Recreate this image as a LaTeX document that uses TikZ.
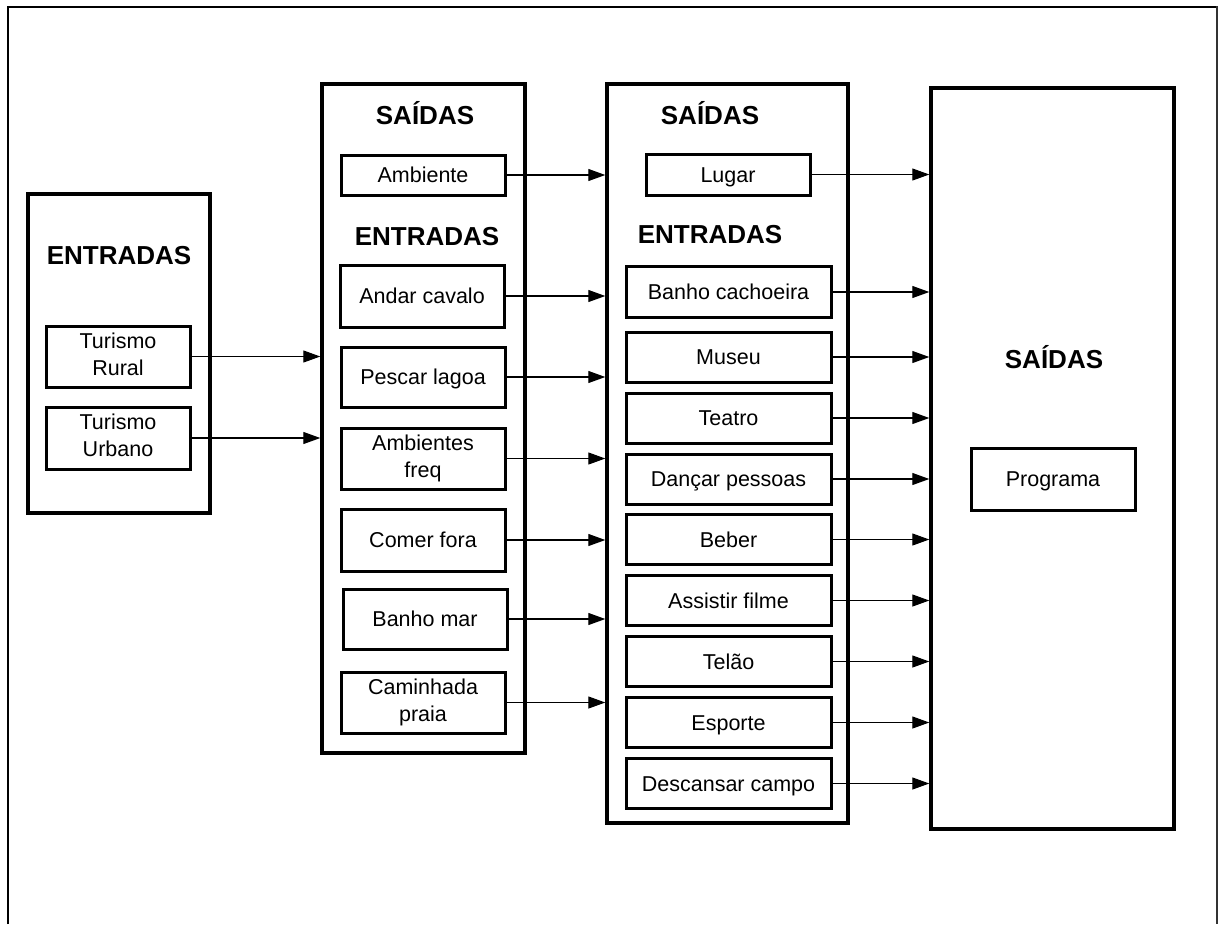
\documentclass[tikz,border=0pt]{standalone}
\usepackage{fontspec}
\setmainfont{Liberation Sans}
\usetikzlibrary{arrows.meta}
\newcommand\boxstrut{\vrule width0pt height0.92em depth0.22em\relax}
\tikzset{
  container/.style={draw, line width=3.4pt, rectangle, inner sep=0pt},
  item/.style={draw, line width=3pt, rectangle, inner sep=0pt, align=center,
    font=\fontsize{21.5}{27}\selectfont,
    execute at begin node=\boxstrut, execute at end node=\boxstrut},
  heading/.style={font=\fontsize{26}{30}\selectfont\bfseries, inner sep=0pt},
  arr/.style={line width=1.1pt, -{Triangle[length=17pt,width=12pt]}},
}
\begin{document}
\begin{tikzpicture}[x=1pt,y=-1pt]
\useasboundingbox (0,0) rectangle (1218,924);
\fill[white] (0,0) rectangle (1218,924);
% outer frame (open at the bottom)
\draw[line width=2.8pt] (8,924) -- (8,6.5);
\draw[line width=2pt] (7,6.5) -- (1217,6.5);
\draw[line width=1.5pt, black!80] (1217,6) -- (1217,924);

% containers
\node[container, minimum width=182pt, minimum height=319pt] (A) at (119,353.5) {};
\node[container, minimum width=203pt, minimum height=669pt] (B) at (423.5,418.5) {};
\node[container, minimum width=241pt, minimum height=739pt] (C) at (727.5,453.5) {};
\node[container, minimum width=243pt, minimum height=741pt] (D) at (1052.5,458.5) {};

% headings
\node[heading] (hA) at (119,256) {ENTRADAS};
\node[heading] (hB1) at (425,113) {SAÍDAS};
\node[heading] (hB2) at (427,237) {ENTRADAS};
\node[heading] (hC1) at (710,113) {SAÍDAS};
\node[heading] (hC2) at (710,235) {ENTRADAS};
\node[heading] (hD) at (1054,357) {SAÍDAS};

% column A items
\node[item, minimum width=144pt, minimum height=61pt] (tr) at (118,356.5) {Turismo\\Rural};
\node[item, minimum width=144pt, minimum height=62pt] (tu) at (118,438) {Turismo\\Urbano};

% column B items
\node[item, minimum width=164pt, minimum height=40pt] (amb) at (423,175) {Ambiente};
\node[item, minimum width=164pt, minimum height=62pt] (and) at (422,296) {Andar cavalo};
\node[item, minimum width=164pt, minimum height=60pt] (pes) at (423,377) {Pescar lagoa};
\node[item, minimum width=164pt, minimum height=61pt] (ambf) at (423,458.5) {Ambientes\\freq};
\node[item, minimum width=164pt, minimum height=62pt] (com) at (423,540) {Comer fora};
\node[item, minimum width=164pt, minimum height=60pt] (bmar) at (425,619) {Banho mar};
\node[item, minimum width=164pt, minimum height=61pt] (cam) at (423,702.5) {Caminhada\\praia};

% column C items
\node[item, minimum width=164pt, minimum height=41pt] (lug) at (728,174.5) {Lugar};
\node[item, minimum width=205pt, minimum height=51pt] (bc) at (728.5,292) {Banho cachoeira};
\node[item, minimum width=205pt, minimum height=50pt] (mus) at (728.5,357) {Museu};
\node[item, minimum width=205pt, minimum height=50pt] (tea) at (728.5,418) {Teatro};
\node[item, minimum width=205pt, minimum height=50pt] (dan) at (728.5,479) {Dançar pessoas};
\node[item, minimum width=205pt, minimum height=50pt] (beb) at (728.5,539.5) {Beber};
\node[item, minimum width=205pt, minimum height=50pt] (ass) at (728.5,600.5) {Assistir filme};
\node[item, minimum width=205pt, minimum height=50pt] (tel) at (728.5,661.5) {Telão};
\node[item, minimum width=205pt, minimum height=50pt] (esp) at (728.5,722.5) {Esporte};
\node[item, minimum width=205pt, minimum height=50pt] (des) at (728.5,783.5) {Descansar campo};

% column D item
\node[item, minimum width=164pt, minimum height=62pt] (prog) at (1053,479) {Programa};

% arrows A -> B
\foreach \n in {tr,tu}
  \draw[arr] (\n.east) -- (\n.east -| B.west);
% arrows B -> C
\foreach \n in {amb,and,pes,ambf,com,bmar,cam}
  \draw[arr] (\n.east) -- (\n.east -| C.west);
% arrows C -> D
\foreach \n in {lug,bc,mus,tea,dan,beb,ass,tel,esp,des}
  \draw[arr] (\n.east) -- (\n.east -| D.west);
\end{tikzpicture}
\end{document}
